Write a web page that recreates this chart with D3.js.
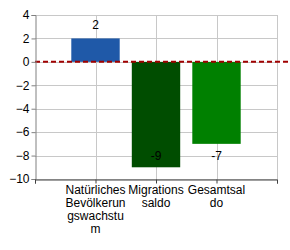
<!DOCTYPE html>
<html>
<head>
<meta charset="utf-8">
<script src="https://cdn.jsdelivr.net/npm/d3@7"></script>
<style>
  body { margin: 0; background: #fff; }
  text { font-family: "Liberation Sans", Arial, sans-serif; font-size: 12px; }
</style>
</head>
<body>
<div id="chart"></div>
<script>
// Daten
const categories = ["Natürliches Bevölkerungswachstum", "Migrationssaldo", "Gesamtsaldo"];
// Beschriftungen so umbrochen wie im Original
const categoryLabels = [
  ["Natürliches", "Bevölkerun", "gswachstu", "m"],
  ["Migrations", "saldo"],
  ["Gesamtsal", "do"]
];
const values = [2, -9, -7];
const barColors = ["#1F59A8", "#004D00", "#008000"];
const yTicks = [4, 2, 0, -2, -4, -6, -8, -10];

const width = 290, height = 250;
const margin = {top: 15, right: 13, bottom: 71, left: 35};

const svg = d3.select("#chart").append("svg")
  .attr("width", width)
  .attr("height", height);

// Skalen: Kategorien auf 1..n, Achse von 0 bis n+1
const x = d3.scaleLinear().domain([0, categories.length + 1]).range([margin.left, width - margin.right]);
const y = d3.scaleLinear().domain([-10, 4]).range([height - margin.bottom, margin.top]);
const barW = (x(1) - x(0)) * 0.8;

// Gitternetz
svg.append("g").selectAll("line")
  .data(yTicks)
  .join("line")
  .attr("x1", x(0)).attr("x2", x(categories.length + 1))
  .attr("y1", d => Math.round(y(d)) + 0.5).attr("y2", d => Math.round(y(d)) + 0.5)
  .attr("stroke", "#c8c8c8");

svg.append("g").selectAll("line")
  .data(d3.range(1, categories.length + 2))
  .join("line")
  .attr("x1", d => Math.round(x(d)) + 0.5).attr("x2", d => Math.round(x(d)) + 0.5)
  .attr("y1", y(4)).attr("y2", y(-10))
  .attr("stroke", "#c8c8c8");

// Balken
svg.append("g").selectAll("rect")
  .data(values)
  .join("rect")
  .attr("x", (d, i) => x(i + 1) - barW / 2)
  .attr("width", barW)
  .attr("y", d => y(Math.max(0, d)))
  .attr("height", d => Math.abs(y(d) - y(0)))
  .attr("fill", (d, i) => barColors[i]);

// Nulllinie
svg.append("line")
  .attr("x1", x(0)).attr("x2", width - 2)
  .attr("y1", y(0)).attr("y2", y(0))
  .attr("stroke", "#A00000")
  .attr("stroke-width", 2)
  .attr("stroke-dasharray", "5,3");

// Achsen
const yAxis = svg.append("g")
  .attr("transform", `translate(${Math.round(x(0)) + 0.5},0)`)
  .call(d3.axisLeft(y).tickValues(yTicks).tickSize(4).tickPadding(2));
yAxis.select(".domain").attr("stroke", "#808080");
yAxis.selectAll(".tick line").attr("stroke", "#808080");
yAxis.selectAll("text").attr("fill", "#000").style("font-size", "12px").style("font-family", "Liberation Sans, Arial, sans-serif");

const xAxis = svg.append("g")
  .attr("transform", `translate(0,${Math.round(y(-10)) + 0.5})`)
  .call(d3.axisBottom(x).tickValues(d3.range(0, categories.length + 2)).tickSize(4).tickFormat(""));
xAxis.select(".domain").attr("stroke", "#404040");
xAxis.selectAll(".tick line").attr("stroke", "#404040");

// Wertbeschriftungen
svg.append("g").selectAll("text")
  .data(values)
  .join("text")
  .attr("x", (d, i) => x(i + 1))
  .attr("y", d => d > 0 ? y(d) - 14 : y(-8))
  .attr("text-anchor", "middle")
  .attr("dy", "0.35em")
  .attr("fill", "#000")
  .text(d => d);

// Kategorienbeschriftungen
svg.append("g").selectAll("text")
  .data(categoryLabels)
  .join("text")
  .attr("x", (d, i) => x(i + 1))
  .attr("y", y(-10) + 15)
  .attr("text-anchor", "middle")
  .attr("fill", "#000")
  .each(function(lines, i) {
    d3.select(this).selectAll("tspan")
      .data(lines)
      .join("tspan")
      .attr("x", x(i + 1))
      .attr("dy", (d, j) => j === 0 ? 0 : 13)
      .text(d => d);
  });
</script>
</body>
</html>
